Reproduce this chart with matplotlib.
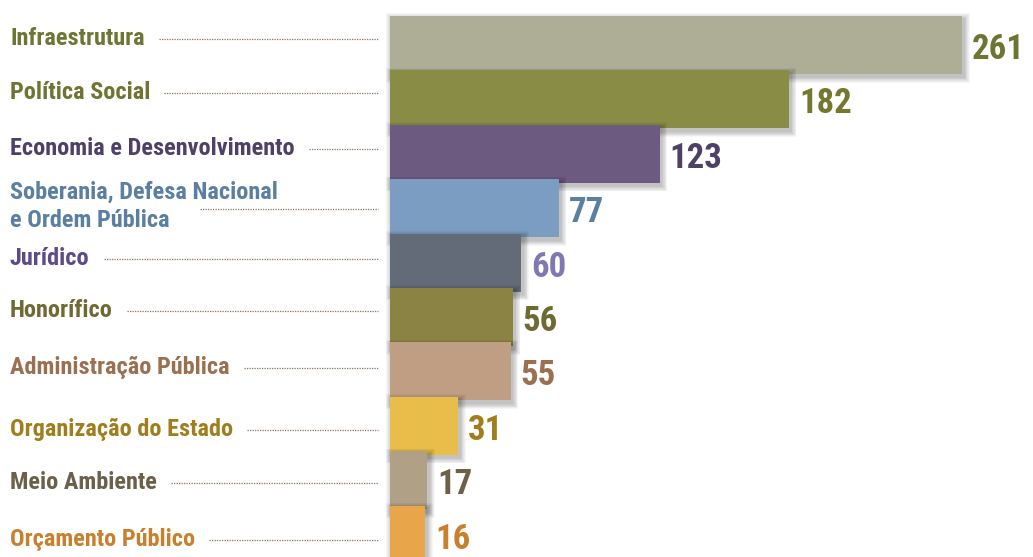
import matplotlib
matplotlib.use("Agg")
import matplotlib.pyplot as plt
import matplotlib.font_manager as fm
from matplotlib.patches import Rectangle
from matplotlib import transforms

# ---------------- data ----------------
categories = ["Infraestrutura", "Política Social", "Economia e Desenvolvimento",
              "Soberania, Defesa Nacional\ne Ordem Pública", "Jurídico", "Honorífico",
              "Administração Pública", "Organização do Estado", "Meio Ambiente",
              "Orçamento Público"]
values = [261, 182, 123, 77, 60, 56, 55, 31, 17, 16]

# ---------------- style ----------------
bar_colors = ["#AEAE96", "#888C44", "#6D5A80", "#7B9DC2", "#636B78",
              "#8A8344", "#C09E84", "#E8BD4A", "#AFA086", "#E8A54A"]
label_colors = ["#6F7533", "#6F7530", "#4F4068", "#5A7FA0", "#5E4A8A",
                "#6F6A33", "#9A7050", "#A07E1E", "#6B6048", "#C8802E"]
value_colors = ["#6E7432", "#74782F", "#4F4068", "#5A7FA0", "#8078B0",
                "#6F6A33", "#9A7050", "#A07E1E", "#6B6048", "#C8802E"]
# label baseline offsets (px, downward) relative to the bar centre
label_base_dy = [0, 0, 1, -9, 2, 0, 3, 10, 9, 11]

names = {f.name for f in fm.fontManager.ttflist}
family = None
for cand in ["Liberation Sans Narrow", "Roboto Condensed", "Open Sans Condensed",
             "Roboto", "DejaVu Sans"]:
    if cand in names:
        family = cand
        break
fp_label = fm.FontProperties(family=family, weight="bold", stretch="condensed", size=17.5)
fp_value = fm.FontProperties(family=family, weight="bold", stretch="condensed", size=25)

W, H, DPI = 1033, 557, 100
fig = plt.figure(figsize=(W / DPI, H / DPI), dpi=DPI)
ax = fig.add_axes([0, 0, 1, 1])
ax.set_axis_off()

# pixel layout
x0px, sx = 390.0, 572.0 / 261.0       # bar origin, px per unit
y0px, sy = 45.0, 54.4                 # first row centre, px per row
ax.set_xlim(-x0px / sx, (W - x0px) / sx)
ax.set_ylim((H - y0px) / sy, -y0px / sy)

bar_h = 58.0 / sy
pxx = 1.0 / sx   # one px in x data units
pxy = 1.0 / sy   # one px in y data units

for i, (v, c) in enumerate(zip(values, bar_colors)):
    z = 10 + 3 * i
    # soft drop shadow
    sdx, sdy = 2 * pxx, 3 * pxy
    for k in range(1, 8):
        ax.add_patch(Rectangle((0 + sdx - k * pxx * 0.8, i - bar_h / 2 + sdy - k * pxy * 0.8),
                               v + 2 * k * pxx * 0.8, bar_h + 2 * k * pxy * 0.8,
                               facecolor="black", edgecolor="none", alpha=0.035, zorder=z))
    ax.barh(i, v, height=bar_h, left=0, color=c, zorder=z + 1)

fig.canvas.draw()
renderer = fig.canvas.get_renderer()
inv = ax.transData.inverted()

def off(dx, dy):
    return transforms.offset_copy(ax.transData, fig=fig, x=dx, y=dy, units="dots")

lbl_x = -380.0 / sx
line_end = -12.0 / sx
for i, (lab, lc, vc, v) in enumerate(zip(categories, label_colors, value_colors, values)):
    nlines = lab.count("\n") + 1
    base_dy = label_base_dy[i]
    if nlines == 1:
        t = ax.text(lbl_x, i, lab, color=lc, fontproperties=fp_label,
                    ha="left", va="baseline", transform=off(0, -base_dy), zorder=50)
        bb = t.get_window_extent(renderer)
        xs = inv.transform((bb.x1 + 14, 0))[0]
        ly = i + (base_dy - 6) * pxy
    else:
        lines = lab.split("\n")
        ts = []
        for j, ln in enumerate(lines):
            t = ax.text(lbl_x, i, ln, color=lc, fontproperties=fp_label,
                        ha="left", va="baseline",
                        transform=off(0, -(base_dy + 28 * j)), zorder=50)
            ts.append(t)
        bb = ts[-1].get_window_extent(renderer)
        xs = inv.transform((bb.x1 + 30, 0))[0]
        ly = i + (base_dy + 10) * pxy
    ax.plot([xs, line_end], [ly, ly], color="#8A7360", lw=0.9,
            linestyle=(0, (1, 1)), zorder=5, solid_capstyle="butt")
    # value label
    ax.text(v, i, str(v), color=vc, fontproperties=fp_value,
            ha="left", va="baseline", transform=off(10, -14), zorder=60)

fig.savefig("out.png", dpi=DPI, facecolor="white")
